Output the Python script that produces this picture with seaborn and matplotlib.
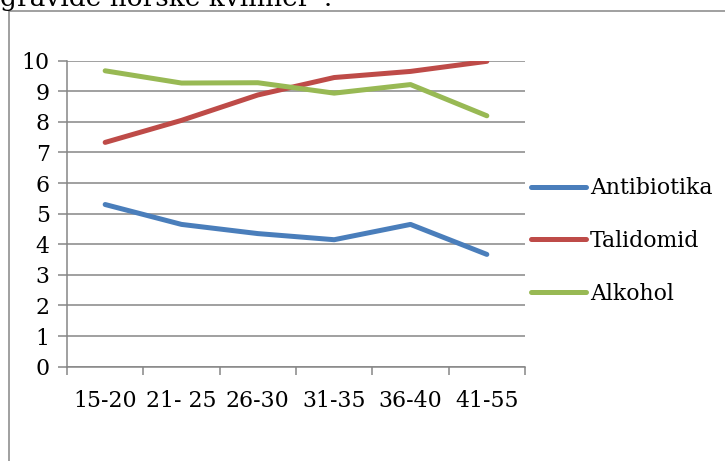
import matplotlib
matplotlib.use("Agg")
import matplotlib.pyplot as plt
from matplotlib.lines import Line2D
import seaborn as sns
import pandas as pd

# Age groups and the three series
age_groups = ["15-20", "21- 25", "26-30", "31-35", "36-40", "41-55"]
antibiotika = [5.3, 4.65, 4.35, 4.15, 4.65, 3.67]
talidomid = [7.33, 8.05, 8.88, 9.45, 9.65, 9.98]
alkohol = [9.67, 9.27, 9.28, 8.94, 9.22, 8.2]
series_names = ["Antibiotika", "Talidomid", "Alkohol"]
y_ticks = list(range(0, 11))
title_text = "gravide norske kvinner\u201d."

colors = ["#4A7EBB", "#BE4B48", "#98B954"]
grid_gray = "#868686"
fs = 15.8

sns.set_theme(style="white")
plt.rcParams["font.family"] = ["DejaVu Serif", "Liberation Serif"]
plt.rcParams["text.color"] = "black"

rows = []
for name, vals in zip(series_names, [antibiotika, talidomid, alkohol]):
    for i, v in enumerate(vals):
        rows.append({"pos": i + 0.5, "group": age_groups[i], "value": v, "serie": name})
df = pd.DataFrame(rows)

W, H = 725, 461
fig = plt.figure(figsize=(W / 100, H / 100), dpi=100)
ax = fig.add_axes([67 / W, 1 - 366.7 / H, (525 - 67) / W, (366.7 - 60.7) / H])

sns.lineplot(data=df, x="pos", y="value", hue="serie", hue_order=series_names,
             palette=colors, linewidth=3.6, ax=ax, legend=False, sort=False)
for ln in ax.lines:
    ln.set_solid_capstyle("round")
    ln.set_solid_joinstyle("round")

ax.set_xlim(0, len(age_groups))
ax.set_ylim(0, 10)
ax.set_yticks(y_ticks)
ax.set_yticklabels([str(t) for t in y_ticks])
ax.set_xticks(range(len(age_groups) + 1))
ax.set_xticklabels([])
ax.set_xticks([i + 0.5 for i in range(len(age_groups))], minor=True)
ax.set_xticklabels(age_groups, minor=True)
ax.set_xlabel("")
ax.set_ylabel("")

ax.yaxis.grid(True, color=grid_gray, linewidth=1.1)
ax.xaxis.grid(False)
ax.set_axisbelow(True)
for side in ["top", "right"]:
    ax.spines[side].set_visible(False)
for side in ["left", "bottom"]:
    ax.spines[side].set_color(grid_gray)
    ax.spines[side].set_linewidth(1.1)

ax.tick_params(axis="y", which="major", direction="out", length=6.5, width=1.1,
               color=grid_gray, labelcolor="black", pad=6, labelsize=fs, left=True)
ax.tick_params(axis="x", which="major", direction="out", length=6, width=1.1,
               color=grid_gray, bottom=True)
ax.tick_params(axis="x", which="minor", length=0, pad=17, labelsize=fs,
               labelcolor="black")

handles = [Line2D([0], [0], color=c, linewidth=3.6, solid_capstyle="round")
           for c in colors]
fig.legend(handles, series_names, loc="center left",
           bbox_to_anchor=(531 / W, 1 - 241 / H), frameon=False,
           fontsize=fs, handlelength=2.5, handletextpad=0.18,
           labelspacing=1.4, borderpad=0, borderaxespad=0, labelcolor="black")

# Outer chart frame (top and left edges)
fig.add_artist(Line2D([9 / W, 9 / W], [1 - 10.7 / H, 0], transform=fig.transFigure,
                      color=grid_gray, linewidth=1.1))
fig.add_artist(Line2D([9 / W, 1], [1 - 10.7 / H, 1 - 10.7 / H], transform=fig.transFigure,
                      color=grid_gray, linewidth=1.1))

fig.text(0, 1 - 6 / H, title_text, fontsize=19, va="baseline", ha="left", color="black")

fig.savefig("out.png", dpi=100, facecolor="white")
